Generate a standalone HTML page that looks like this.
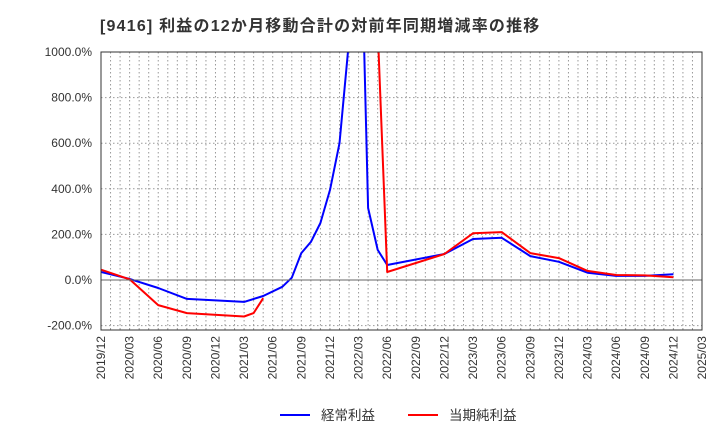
<!DOCTYPE html>
<html><head><meta charset="utf-8"><style>
body{margin:0;background:#fff;font-family:"Liberation Sans","Noto Sans CJK JP",sans-serif;}
#c{position:relative;width:720px;height:440px;}
</style></head><body>
<div id="c">
<svg id="s" width="720" height="440" xmlns="http://www.w3.org/2000/svg">
<text x="100" y="31" font-size="16" letter-spacing="1.2" font-weight="bold" fill="#333">[9416]  利益の12か月移動合計の対前年同期増減率の推移</text>
<defs><clipPath id="clip"><rect x="101" y="52" width="601" height="278"/></clipPath></defs>
<g id="grid"></g><g id="series" clip-path="url(#clip)"></g><g id="axes"></g>
<g>
<line x1="280" y1="415" x2="310" y2="415" stroke="#0000ff" stroke-width="2"/>
<text x="321" y="420" font-size="13.5" fill="#333">経常利益</text>
<line x1="408" y1="415" x2="438" y2="415" stroke="#ff0000" stroke-width="2"/>
<text x="449" y="420" font-size="13.5" fill="#333">当期純利益</text>
</g>
</svg></div>
<script>
const tickLabels=["2019/12","2020/03","2020/06","2020/09","2020/12","2021/03","2021/06","2021/09","2021/12","2022/03","2022/06","2022/09","2022/12","2023/03","2023/06","2023/09","2023/12","2024/03","2024/06","2024/09","2024/12","2025/03"];
const yTicks=[-200,0,200,400,600,800,1000];
const blueMonths=[0,3,6,9,15,17,19,20,21,22,23,24,25,26,27,28,29,30,36,39,42,45,48,51,54,57,60];
const blueValues=[35,5,-35,-83,-96,-70,-30,10,118,167,250,395,600,1050,2000,316,132,66,114,180,185,105,80,32,18,18,25];
const redMonths=[0,3,6,9,15,16,17,null,29,30,36,39,42,45,48,51,54,57,60];
const redValues=[45,3,-110,-145,-160,-145,-80,null,1100,35,114,205,210,118,96,40,22,20,12];
const NS="http://www.w3.org/2000/svg";
const X0=101,X1=702,Y0=52,Y1=330,NM=63;
const xs=m=>X0+(X1-X0)*m/NM;
const ys=v=>280-v*0.228;
function el(t,a,p){const e=document.createElementNS(NS,t);for(const k in a)e.setAttribute(k,a[k]);p.appendChild(e);return e;}
const g=document.getElementById('grid'),ax=document.getElementById('axes'),se=document.getElementById('series');
for(let m=1;m<NM;m++){const l=el('line',{x1:xs(m),x2:xs(m),y1:Y0,y2:Y1,stroke:'#999','stroke-dasharray':'1.5,2.5','stroke-width':1},g);

}
yTicks.forEach(v=>{const y=ys(v);
if(v!==0){const l=el('line',{x1:X0,x2:X1,y1:y,y2:y,stroke:'#999','stroke-dasharray':'1.5,2.5'},g);

}
const t=el('text',{x:92,y:y+4,'text-anchor':'end','font-size':12,fill:'#333'},ax);t.textContent=v.toFixed(1)+'%';

});
const z=el('line',{x1:X0,x2:X1,y1:ys(0),y2:ys(0),stroke:'#666','stroke-width':1},ax);


const fr=el('rect',{x:X0,y:Y0,width:X1-X0,height:Y1-Y0,fill:'none',stroke:'#333','stroke-width':1},ax);


tickLabels.forEach((s,i)=>{const x=xs(i*3);const t=el('text',{x:x+4,y:336,'text-anchor':'end','font-size':12,fill:'#333',transform:`rotate(-90 ${x+4} 336)`},ax);t.textContent=s;

});
function draw(ms,vs,col,name){let segs=[],cur=[];ms.forEach((m,i)=>{if(m===null||vs[i]===null){if(cur.length)segs.push(cur);cur=[];}else cur.push(xs(m).toFixed(1)+','+ys(vs[i]).toFixed(1));});if(cur.length)segs.push(cur);
segs.forEach(s=>{const p=el('polyline',{points:s.join(' '),fill:'none',stroke:col,'stroke-width':2,'stroke-linejoin':'round'},se);

});}
draw(blueMonths,blueValues,'#0000ff','keijo-line');
draw(redMonths,redValues,'#ff0000','junrieki-line');
</script></body></html>
